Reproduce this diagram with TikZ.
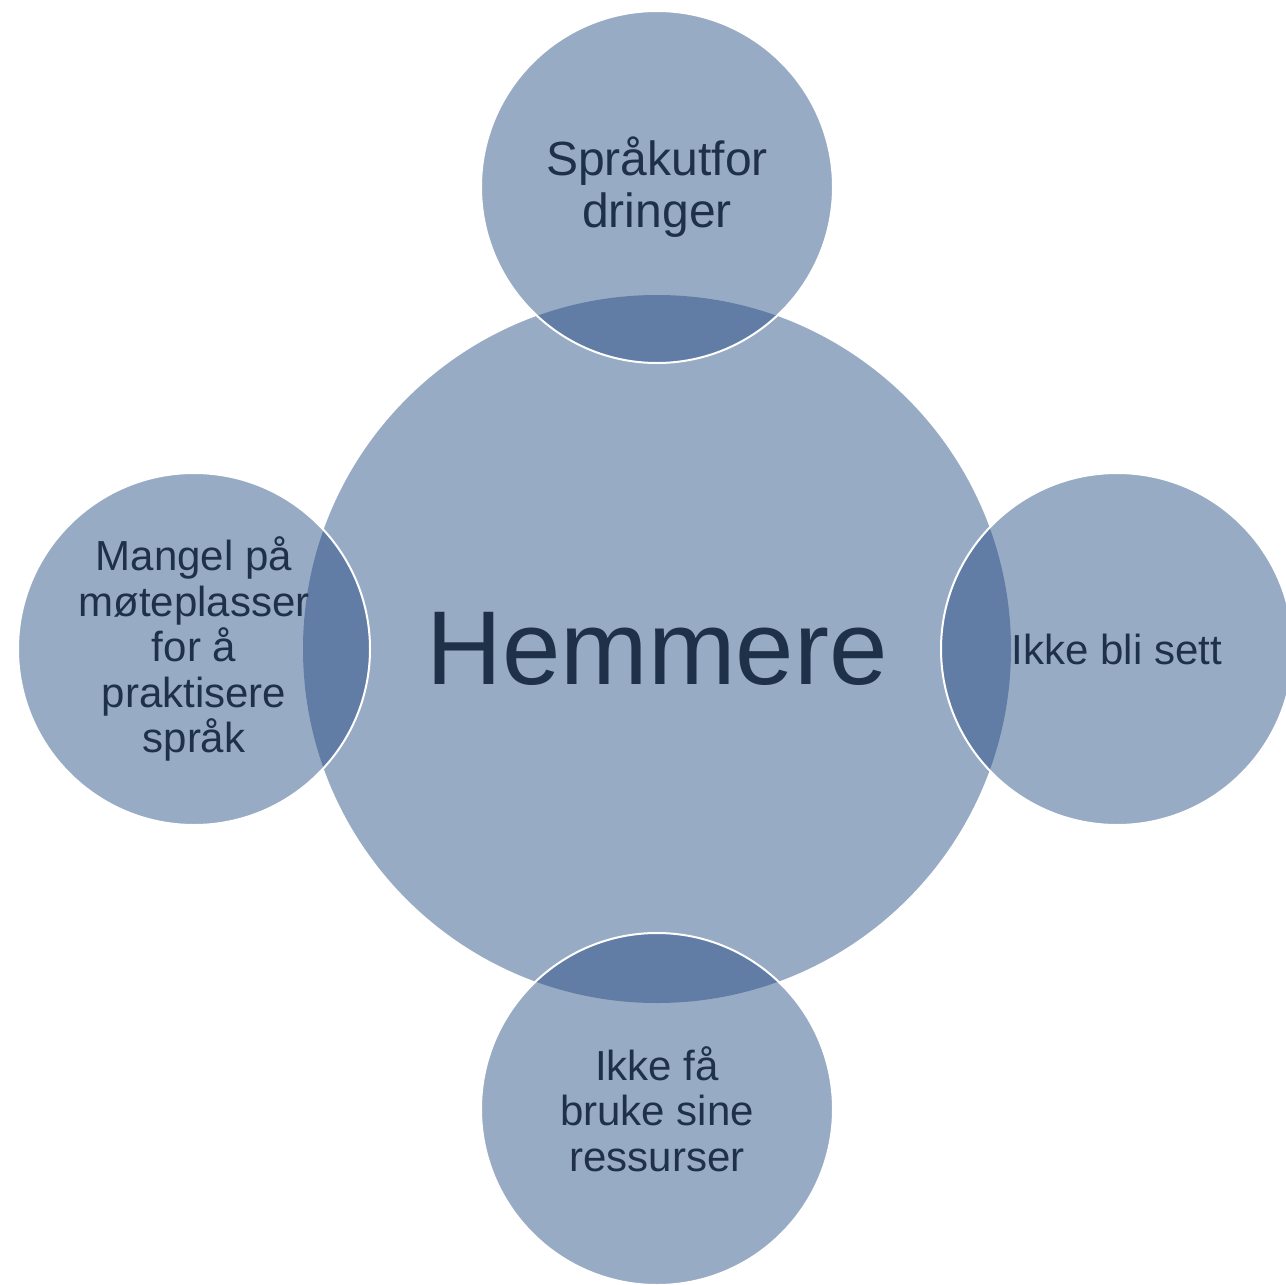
\documentclass[tikz,border=0pt]{standalone}
\usepackage{fontspec}
\setmainfont{Liberation Sans}
\definecolor{bubblefill}{RGB}{31,71,127}
\definecolor{bubbletext}{RGB}{31,49,72}
\tikzset{
  bubble/.style={circle, inner sep=0pt, fill=bubblefill, fill opacity=0.46,
    text opacity=1, text=bubbletext, align=center},
  hub/.style={bubble, minimum size=708pt, font=\fontsize{105}{110}\selectfont},
  spoke/.style={bubble, minimum size=352pt, draw=white, draw opacity=1,
    line width=2pt, font=\fontsize{42}{45.5}\selectfont},
}
\begin{document}
\begin{tikzpicture}[x=1pt,y=1pt,yscale=-1,xscale=1]
    \useasboundingbox (0,0) rectangle (1286,1285);
    \clip (0,0) rectangle (1286,1285);

    %Shape: Circle [centre]
    \node [hub] (hemmere) at (657,649) {Hemmere};

    %Shape: Circle [top]
    \node [spoke, font=\fontsize{48}{52}\selectfont] (sprak) at (657,187) {Språkutfor\\dringer};
    %Shape: Circle [right]
    \node [spoke] (sett) at (1117,649) {Ikke bli sett};
    %Shape: Circle [bottom]
    \node [spoke] (ressurser) at (657,1109) {Ikke få\\bruke sine\\ressurser};
    %Shape: Circle [left]
    \node [spoke] (mangel) at (194,649) {Mangel på\\møteplasser\\for å\\praktisere\\språk};

\end{tikzpicture}
\end{document}
